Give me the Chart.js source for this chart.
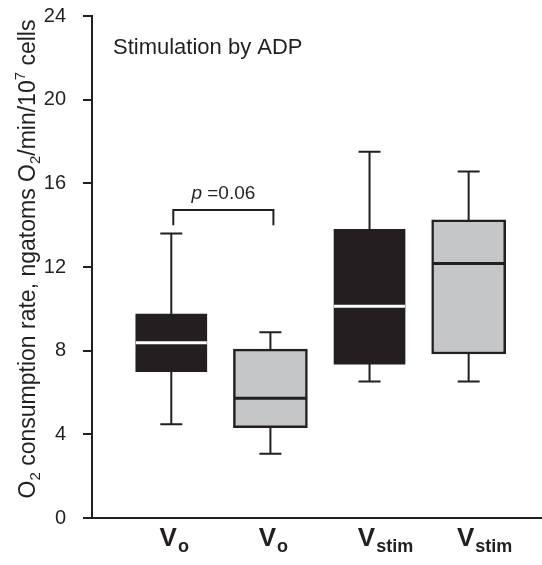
<!DOCTYPE html>
<html>
<head>
<meta charset="utf-8">
<script src="https://cdn.jsdelivr.net/npm/chart.js@4.4.1/dist/chart.umd.min.js"></script>
<style>
  html, body { margin: 0; padding: 0; background: #fff; }
</style>
</head>
<body>
<canvas id="boxChart" width="542" height="565"></canvas>
<script>
// box plot values (ngatoms O2/min/10^7 cells)
const groups = ["o", "o", "stim", "stim"];          // subscript of each "V" label
const positions = [1, 2, 3, 4];
const shades = ["dark", "light", "dark", "light"];
const whiskerLow = [4.48, 3.07, 6.52, 6.52];
const q1 = [7.0, 4.32, 7.36, 7.84];
const medians = [8.38, 5.72, 10.12, 12.17];
const q3 = [9.75, 8.07, 13.8, 14.25];
const whiskerHigh = [13.6, 8.88, 17.51, 16.57];
const yTicks = [0, 4, 8, 12, 16, 20, 24];

// significance bracket between the two V_o groups
const bracketPair = [1, 2];
const bracketTop = 14.72;
const bracketFoot = 14.0;
const pLabel = "0.06";

const INK = "#231f20";
const LIGHT = "#c5c6c8";
const FONT = "'Liberation Sans', Arial, Helvetica, sans-serif";

const pick = shade => positions.map((p, i) => i).filter(i => shades[i] === shade);
const boxData = idx => idx.map(i => ({ x: positions[i], y: [q1[i], q3[i]] }));

const boxExtras = {
    id: "boxExtras",
    afterDatasetsDraw(chart) {
        const { ctx, scales: { x, y } } = chart;
        ctx.save();
        positions.forEach((pos, i) => {
            const cx = x.getPixelForValue(pos);
            const dark = shades[i] === "dark";
            // whiskers + caps
            ctx.strokeStyle = INK;
            ctx.lineWidth = 2;
            ctx.beginPath();
            ctx.moveTo(cx, y.getPixelForValue(q3[i]));
            ctx.lineTo(cx, y.getPixelForValue(whiskerHigh[i]));
            ctx.moveTo(cx, y.getPixelForValue(q1[i]));
            ctx.lineTo(cx, y.getPixelForValue(whiskerLow[i]));
            [whiskerHigh[i], whiskerLow[i]].forEach(v => {
                const py = y.getPixelForValue(v);
                ctx.moveTo(cx - 11, py);
                ctx.lineTo(cx + 11, py);
            });
            ctx.stroke();
            // median line across the box
            const meta = chart.getDatasetMeta(dark ? 0 : 1);
            const bar = meta.data.find(el => Math.abs(el.x - cx) < 1);
            const half = bar ? bar.width / 2 : 36;
            const inset = dark ? 0 : 1.5;
            const my = y.getPixelForValue(medians[i]);
            ctx.strokeStyle = dark ? "#ffffff" : INK;
            ctx.lineWidth = 3;
            ctx.beginPath();
            ctx.moveTo(cx - half + inset, my);
            ctx.lineTo(cx + half - inset, my);
            ctx.stroke();
        });
        ctx.restore();
    },
    afterDraw(chart) {
        const { ctx, scales: { x, y } } = chart;
        ctx.save();
        ctx.fillStyle = INK;
        ctx.strokeStyle = INK;

        // panel title
        ctx.font = "22px " + FONT;
        ctx.textBaseline = "alphabetic";
        ctx.textAlign = "left";
        ctx.fillText("Stimulation by ADP", 113, 54);

        // p-value bracket
        const bx1 = x.getPixelForValue(bracketPair[0]) + 2;
        const bx2 = x.getPixelForValue(bracketPair[1]) + 3;
        const by = y.getPixelForValue(bracketTop);
        const bf = y.getPixelForValue(bracketFoot);
        ctx.lineWidth = 2;
        ctx.beginPath();
        ctx.moveTo(bx1, bf);
        ctx.lineTo(bx1, by);
        ctx.lineTo(bx2, by);
        ctx.lineTo(bx2, bf);
        ctx.stroke();
        ctx.font = "italic 19px " + FONT;
        const pW = ctx.measureText("p").width;
        ctx.font = "19px " + FONT;
        const restW = ctx.measureText(" =" + pLabel).width;
        let tx = (bx1 + bx2) / 2 - (pW + restW) / 2;
        ctx.font = "italic 19px " + FONT;
        ctx.fillText("p", tx, by - 11);
        ctx.font = "19px " + FONT;
        ctx.fillText(" =" + pLabel, tx + pW, by - 11);

        // category labels V with subscripts
        groups.forEach((sub, i) => {
            const cx = x.getPixelForValue(positions[i]);
            ctx.font = "bold 26px " + FONT;
            const vW = ctx.measureText("V").width;
            const left = cx - vW / 2 - 3;
            ctx.fillText("V", left, 546);
            ctx.font = "bold 18px " + FONT;
            ctx.fillText(sub, left + vW + 1, 552);
        });

        // y axis title with sub/superscripts
        const parts = [
            ["O", 0], ["2", -1], [" consumption rate, ngatoms O", 0], ["2", -1],
            ["/min/10", 0], ["7", 1], [" cells", 0]
        ];
        const big = "23px " + FONT, small = "15px " + FONT;
        let total = 0;
        parts.forEach(([t, s]) => { ctx.font = s ? small : big; total += ctx.measureText(t).width; });
        ctx.translate(35, 259);
        ctx.rotate(-Math.PI / 2);
        let px = -total / 2;
        parts.forEach(([t, s]) => {
            ctx.font = s ? small : big;
            const dy = s === -1 ? 5 : (s === 1 ? -10 : 0);
            ctx.fillText(t, px, dy);
            px += ctx.measureText(t).width;
        });
        ctx.restore();
    }
};

const ctx = document.getElementById("boxChart").getContext("2d");
const boxChart = new Chart(ctx, {
    type: "bar",
    data: {
        datasets: [
            {
                data: boxData(pick("dark")),
                backgroundColor: INK,
                borderWidth: 0,
                barThickness: 71,
                grouped: false,
            },
            {
                data: boxData(pick("light")),
                backgroundColor: LIGHT,
                borderColor: INK,
                borderWidth: 2.5,
                borderSkipped: false,
                barThickness: 74,
                grouped: false,
            },
        ],
    },
    options: {
        responsive: false,
        animation: false,
        devicePixelRatio: 1,
        layout: { padding: 0 },
        plugins: {
            legend: { display: false },
            tooltip: { enabled: false },
        },
        scales: {
            x: {
                type: "linear",
                offset: false,
                min: 0.2,
                max: 4.74,
                grid: { display: false },
                border: { display: true, color: INK, width: 2 },
                ticks: { display: false },
                afterFit: scale => { scale.height = 47; },
            },
            y: {
                min: yTicks[0],
                max: yTicks[yTicks.length - 1],
                afterBuildTicks: scale => { scale.ticks = yTicks.map(v => ({ value: v })); },
                grid: {
                    drawOnChartArea: false,
                    drawTicks: true,
                    tickLength: 9,
                    color: INK,
                    lineWidth: 2,
                },
                border: { display: true, color: INK, width: 2 },
                ticks: {
                    color: INK,
                    padding: 17,
                    font: { family: FONT, size: 20 },
                },
                afterFit: scale => {
                    scale.width = 92;
                    scale.paddingTop = 16;
                    scale.paddingBottom = 0;
                },
            },
        },
    },
    plugins: [boxExtras],
});
</script>
</body>
</html>
